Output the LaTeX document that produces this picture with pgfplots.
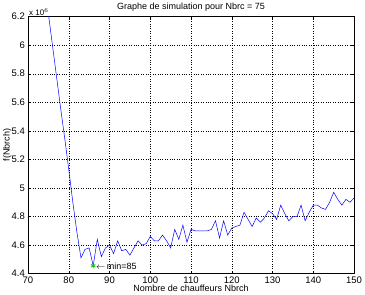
\documentclass[border=0pt]{standalone}
\usepackage{fontspec}
\setmainfont{Liberation Sans}
\usepackage{pgfplots}
\pgfplotsset{compat=1.18}
\begin{document}
\fontsize{9}{10}\selectfont
\begin{tikzpicture}
\begin{axis}[
  scale only axis,
  width=326pt, height=257pt,
  xmin=70, xmax=150, ymin=4.4, ymax=6.2,
  xtick={70,80,...,150},
  ytick={4.4,4.6,4.8,5,5.2,5.4,5.6,5.8,6,6.2},
  yticklabels={4.4,4.6,4.8,5,5.2,5.4,5.6,5.8,6,6.2},
  tick align=inside,
  tick style={black, thin},
  major tick length=3pt,
  grid=major,
  grid style={black, dotted, thin},
  axis line style={black, thin},
  every tick label/.append style={font=\fontsize{9.5}{10}\selectfont},
  /pgf/number format/assume math mode=true,
  title={Graphe de simulation pour Nbrc = 75},
  title style={font=\fontsize{9}{10}\selectfont, yshift=-4pt},
  xlabel={Nombre de chauffeurs Nbrch},
  ylabel={f(Nbrch)},
  xlabel style={font=\fontsize{9}{10}\selectfont, yshift=5pt},
  ylabel style={font=\fontsize{9}{10}\selectfont, yshift=-6pt},
  clip mode=individual,
]
\addplot[blue, line width=0.5pt, mark=none] coordinates {
(75,6.22) (76,6.00) (77,5.78) (78,5.56) (79,5.35) (80,5.13)
(81,4.90) (82,4.69) (83,4.51) (84,4.57) (85,4.58) (86,4.455)
(87,4.64) (88,4.52) (89,4.58) (90,4.60) (91,4.54) (92,4.63)
(93,4.56) (94,4.57) (95,4.53) (96,4.58) (97,4.63) (98,4.60)
(99,4.61) (100,4.66) (101,4.63) (102,4.63) (103,4.67) (104,4.63)
(105,4.58) (106,4.71) (107,4.64) (108,4.74) (109,4.62) (110,4.71)
(111,4.70) (112,4.70) (113,4.70) (114,4.70) (115,4.71) (116,4.77)
(117,4.65) (118,4.77) (119,4.67) (120,4.72) (121,4.73) (122,4.74)
(123,4.83) (124,4.78) (125,4.73) (126,4.79) (127,4.76) (128,4.79)
(129,4.84) (130,4.82) (131,4.78) (132,4.88) (133,4.82) (134,4.77)
(135,4.80) (136,4.80) (137,4.88) (138,4.77) (139,4.83) (140,4.88)
(141,4.88) (142,4.86) (143,4.85) (144,4.90) (145,4.97) (146,4.92)
(147,4.88) (148,4.92) (149,4.90) (150,4.93)
};
\addplot[only marks, mark=asterisk, mark size=2.5pt, green!80!black, thick] coordinates {(86,4.455)};
\node[anchor=west, inner sep=1pt, font=\fontsize{9}{10}\selectfont] at (axis cs:86.4,4.455) {$\leftarrow$\,min=85};
\node[anchor=south west, inner sep=1pt, font=\fontsize{8}{9}\selectfont] at (rel axis cs:0,1) {x 10$^{6}$};
\end{axis}
\end{tikzpicture}
\end{document}
